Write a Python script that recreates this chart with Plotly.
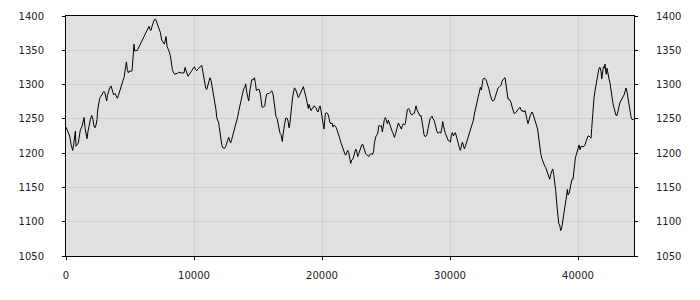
import plotly.graph_objects as go

x_vals = [
    0, 185, 289, 393, 523, 601, 679, 731, 783, 888, 966, 1044, 1122, 1252, 1330, 1408, 1487, 1591, 1643, 1721,
    1799, 1903, 2007, 2112, 2190, 2268, 2346, 2424, 2476, 2554, 2632, 2737, 2841, 2945, 3023, 3101, 3179, 3231,
    3310, 3414, 3518, 3622, 3726, 3830, 3935, 4013, 4091, 4169, 4247, 4351, 4455, 4534, 4612, 4664, 4716, 4794,
    4872, 4950, 5054, 5159, 5211, 5263, 5315, 5367, 5471, 5575, 5653, 5757, 5862, 5966, 6070, 6174, 6278, 6382,
    6487, 6565, 6643, 6721, 6799, 6903, 7007, 7086,
    7268, 7372, 7476, 7581, 7685, 7763, 7815, 7893, 7997, 8101, 8180, 8232, 8310, 8388, 8492, 8596, 8700, 8805,
    8909, 9013, 9117, 9221, 9299, 9377, 9456, 9534, 9638, 9742, 9846, 9950, 10028, 10133, 10211, 10315, 10419,
    10523, 10601, 10680, 10758, 10836, 10914, 10992, 11070, 11148, 11252, 11331, 11409, 11487, 11565, 11643,
    11721, 11773, 11852, 11930, 11982, 12034, 12086, 12164, 12242, 12320, 12398, 12476, 12555, 12633, 12711,
    12789, 12867, 12945, 13023, 13101, 13180, 13258, 13336, 13414, 13492, 13570, 13648, 13727, 13805, 13883,
    13961, 14039, 14117, 14195, 14273, 14352, 14430,
    14508, 14638, 14716, 14794, 14873, 14977, 15081, 15185, 15263, 15315, 15419, 15524, 15602, 15680, 15784,
    15888, 15992, 16070, 16175, 16253, 16331, 16409, 16487, 16565, 16643, 16721, 16800, 16852, 16904, 16956,
    17008, 17086, 17164, 17268, 17346, 17425, 17503, 17581, 17633, 17711, 17789, 17841, 17919, 17998, 18076,
    18154, 18232, 18310, 18388, 18466, 18544, 18623, 18701, 18779, 18857, 18935, 18987, 19065, 19143, 19221,
    19300, 19378, 19456, 19534, 19612, 19690, 19768, 19846, 19925, 20003, 20081, 20159, 20211, 20263, 20367,
    20471, 20550, 20628, 20706, 20784, 20862, 20940, 21018, 21096, 21175, 21253, 21331, 21409, 21487, 21565,
    21643, 21721, 21800,
    21852, 21930, 22008, 22086, 22165, 22243, 22321, 22399, 22477, 22555, 22633, 22711, 22789, 22868, 22946,
    23024, 23102, 23180, 23258, 23336, 23414, 23493, 23571, 23649, 23727, 23805, 23883, 23961, 24039, 24091,
    24144, 24222, 24300, 24378, 24430, 24482, 24560, 24638, 24716, 24794, 24873, 24951, 25029, 25107, 25185,
    25263, 25341, 25419, 25498, 25576, 25654, 25732, 25810, 25888, 25966, 26044, 26123, 26201, 26279, 26357,
    26435, 26513, 26591, 26669, 26748, 26826, 26904, 26982, 27060, 27138, 27216, 27294, 27346, 27425, 27503,
    27581, 27659, 27737, 27815, 27867, 27919, 27971, 28050, 28128, 28206, 28284, 28362, 28440, 28518, 28596,
    28675, 28753, 28831, 28909, 28987, 29065, 29143,
    29195, 29273, 29351, 29429, 29481, 29560, 29638, 29716, 29794, 29872, 29950, 30028, 30106, 30185, 30263,
    30341, 30419, 30497, 30575, 30653, 30731, 30810, 30888, 30966, 31044, 31122, 31200, 31278, 31356, 31435,
    31513, 31591, 31669, 31747, 31825, 31903, 31981, 32060, 32138, 32216, 32294, 32372, 32450, 32502, 32580,
    32658, 32737, 32815, 32893, 32971, 33049, 33127, 33205, 33283, 33362, 33440, 33518, 33596, 33674, 33752,
    33830, 33908, 33987, 34065, 34143, 34221, 34299, 34377, 34455, 34533, 34612, 34690, 34768, 34846, 34924,
    35002, 35080, 35158, 35237, 35315, 35393, 35471, 35549, 35627, 35705, 35783, 35862, 35940, 36018, 36096,
    36174, 36252, 36330, 36408, 36487, 36565, 36643, 36721, 36799,
    36852, 36930, 37008, 37086, 37164, 37242, 37320, 37398, 37477, 37555, 37633, 37711, 37789, 37867, 37945,
    38023, 38102, 38180, 38258, 38336, 38414, 38492, 38570, 38648, 38727, 38805, 38883, 38961, 39039, 39117,
    39169, 39221, 39300, 39378, 39456, 39534, 39612, 39690, 39742, 39794, 39846, 39925, 40003, 40081, 40159,
    40237, 40315, 40393, 40471, 40550, 40628, 40706, 40784, 40862, 40940, 41018, 41070, 41123, 41175, 41253,
    41331, 41409, 41487, 41565, 41643, 41722, 41800, 41852, 41904, 41982, 42060, 42112, 42164, 42216, 42268,
    42347, 42425, 42503, 42581, 42659, 42737, 42815, 42893, 42972, 43050, 43128, 43206, 43284, 43362, 43440,
    43518, 43597, 43675, 43753, 43831, 43909, 43987, 44065, 44143, 44222, 44352,
]

y_vals = [
    1238, 1229, 1225, 1213, 1204, 1213, 1222, 1232, 1210, 1213, 1215, 1225, 1234, 1239, 1244, 1252, 1237, 1229, 1221, 1232,
    1241, 1249, 1255, 1249, 1239, 1237, 1241, 1249, 1263, 1275, 1280, 1283, 1287, 1290, 1289, 1282, 1276, 1284,
    1289, 1295, 1298, 1291, 1285, 1287, 1283, 1280, 1284, 1289, 1296, 1302, 1306, 1310, 1320, 1329, 1333, 1322,
    1317, 1320, 1319, 1320, 1332, 1349, 1359, 1349, 1349, 1350, 1353, 1357, 1361, 1365, 1369, 1375, 1379, 1382,
    1385, 1380, 1379, 1385, 1391, 1395, 1395, 1391,
    1384, 1376, 1365, 1361, 1359, 1365, 1370, 1356, 1352, 1346, 1339, 1329, 1322, 1318, 1315, 1316, 1316, 1318,
    1317, 1317, 1317, 1317, 1325, 1320, 1316, 1312, 1315, 1318, 1320, 1323, 1326, 1322, 1320, 1323, 1325,
    1326, 1328, 1320, 1309, 1301, 1295, 1293, 1299, 1306, 1310, 1306, 1298, 1289, 1280, 1272,
    1263, 1252, 1249, 1244, 1237, 1227, 1220, 1213, 1208, 1207, 1207, 1210, 1215, 1220, 1223,
    1218, 1215, 1220, 1225, 1229, 1237, 1241, 1246, 1253, 1261, 1268, 1274, 1282, 1291, 1294,
    1295, 1301, 1289, 1282, 1276, 1289, 1301,
    1307, 1307, 1310, 1303, 1291, 1293, 1293, 1286, 1277, 1267, 1267, 1269, 1279, 1286, 1287,
    1287, 1289, 1291, 1286, 1277, 1265, 1253, 1251, 1243, 1239, 1229, 1227, 1219, 1217, 1227,
    1236, 1243, 1251, 1251, 1247, 1237, 1245, 1255, 1269, 1282, 1289, 1295, 1294, 1290, 1286,
    1281, 1284, 1287, 1291, 1294, 1297, 1291, 1286, 1279, 1272, 1265, 1271, 1267, 1262, 1265,
    1266, 1269, 1267, 1266, 1262, 1260, 1265, 1269, 1262, 1249, 1243, 1235, 1251, 1258, 1259,
    1257, 1251, 1244, 1243, 1244, 1238, 1241, 1240, 1238, 1234, 1230, 1227, 1220, 1215, 1210,
    1205, 1201, 1198,
    1197, 1201, 1204, 1201, 1193, 1185, 1190, 1191, 1195, 1201, 1206, 1203, 1195, 1199, 1204,
    1207, 1212, 1213, 1207, 1201, 1199, 1198, 1197, 1195, 1198, 1199, 1199, 1198, 1204, 1215,
    1222, 1225, 1227, 1231, 1239, 1241, 1239, 1240, 1231, 1241, 1249, 1252, 1245, 1243, 1248,
    1243, 1239, 1234, 1231, 1228, 1223, 1227, 1234, 1241, 1244, 1241, 1237, 1235, 1240, 1243,
    1241, 1243, 1254, 1263, 1265, 1264, 1259, 1256, 1256, 1258, 1258, 1263, 1269, 1263, 1259,
    1258, 1254, 1255, 1248, 1241, 1234, 1227, 1224, 1225, 1227, 1236, 1245, 1250, 1252, 1254,
    1250, 1248, 1243, 1236, 1231, 1229, 1230,
    1231, 1229, 1235, 1246, 1239, 1234, 1229, 1225, 1220, 1218, 1218, 1216, 1226, 1230, 1225,
    1229, 1230, 1225, 1218, 1214, 1208, 1204, 1212, 1216, 1212, 1206, 1210, 1215, 1219, 1225,
    1230, 1234, 1238, 1242, 1248, 1257, 1265, 1271, 1277, 1283, 1289, 1296, 1292, 1300, 1308,
    1309, 1309, 1307, 1303, 1298, 1293, 1286, 1280, 1277, 1276, 1277, 1281, 1287, 1292, 1295,
    1296, 1297, 1299, 1305, 1308, 1309, 1310, 1298, 1289, 1279, 1279, 1277, 1274, 1268, 1261,
    1258, 1258, 1260, 1261, 1263, 1266, 1267, 1263, 1261, 1262, 1260, 1262, 1257, 1249, 1243,
    1250, 1254, 1257, 1260, 1257, 1253, 1249, 1243, 1238,
    1234, 1219, 1208, 1200, 1193, 1188, 1184, 1181, 1179, 1175, 1172, 1167, 1162, 1169, 1174,
    1177, 1169, 1158, 1146, 1127, 1110, 1098, 1095, 1087, 1091, 1100, 1110, 1117, 1124, 1139,
    1147, 1139, 1141, 1148, 1158, 1162, 1162, 1172, 1184, 1193, 1196, 1200, 1205, 1212, 1205,
    1210, 1210, 1209, 1210, 1212, 1217, 1221, 1225, 1225, 1223, 1222, 1236, 1253, 1269, 1281,
    1291, 1298, 1308, 1317, 1324, 1325, 1319, 1308, 1317, 1326, 1324, 1330, 1319, 1315, 1324,
    1312, 1308, 1302, 1289, 1277, 1272, 1266, 1260, 1255, 1255, 1260, 1268, 1274, 1277, 1278,
    1281, 1285, 1290, 1295, 1289, 1279, 1269, 1260, 1253, 1249, 1249,
]

y_ticks = [1050, 1100, 1150, 1200, 1250, 1300, 1350, 1400]
x_ticks = [0, 10000, 20000, 30000, 40000]

font = dict(family="DejaVu Sans", size=10, color="#222222")
grid = "#cfcfcf"

fig = go.Figure()
fig.add_trace(go.Scatter(x=x_vals, y=y_vals, mode="lines",
                         line=dict(color="black", width=1), hoverinfo="skip", showlegend=False))
fig.add_trace(go.Scatter(x=x_vals, y=y_vals, mode="lines", yaxis="y2",
                         line=dict(color="rgba(0,0,0,0)", width=1), hoverinfo="skip", showlegend=False))

fig.update_layout(
    width=700, height=300,
    margin=dict(l=66, r=66, t=10, b=44),
    paper_bgcolor="white", plot_bgcolor="#e0e0e0",
    font=font,
    xaxis=dict(range=[0, 44375], tickvals=x_ticks, ticktext=[str(v) for v in x_ticks],
               showgrid=True, gridcolor=grid, gridwidth=1, zeroline=False,
               showline=True, linecolor="black", linewidth=1, mirror=True,
               ticks="outside", ticklen=3, tickcolor="black", ticklabelstandoff=7,
               tickfont=font),
    yaxis=dict(range=[1050, 1400], tickvals=y_ticks, ticktext=[str(v) for v in y_ticks],
               showgrid=True, gridcolor=grid, gridwidth=1, zeroline=False,
               showline=True, linecolor="black", linewidth=1, mirror=True,
               ticks="outside", ticklen=3, tickcolor="black", ticklabelstandoff=16,
               tickfont=font),
    yaxis2=dict(range=[1050, 1400], tickvals=y_ticks, ticktext=[str(v) for v in y_ticks],
                overlaying="y", side="right", showgrid=False, zeroline=False,
                showline=True, linecolor="black", linewidth=1,
                ticks="outside", ticklen=3, tickcolor="black", ticklabelstandoff=16,
                tickfont=font),
)

fig.write_html("out.html")
